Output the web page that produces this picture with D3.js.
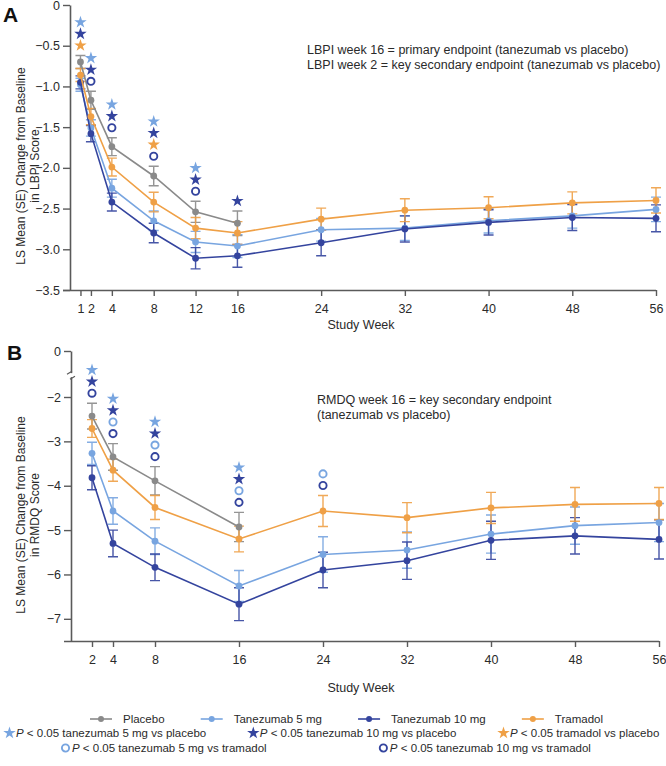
<!DOCTYPE html>
<html>
<head>
<meta charset="utf-8">
<script src="https://cdn.jsdelivr.net/npm/d3@7"></script>
<style>
  body { margin: 0; background: #fff; }
  svg { display: block; font-family: "Liberation Sans", Arial, sans-serif; }
</style>
</head>
<body>
<svg id="chart" width="666" height="766"></svg>
<script>
// ---- data: panel A (LBPI) ----
const weeksA = [1, 2, 4, 8, 12, 16, 24, 32, 40, 48, 56]
const placeboA = [-0.70, -1.17, -1.74, -2.10, -2.54, -2.68]
const tan5A = [-0.98, -1.51, -2.25, -2.65, -2.91, -2.96, -2.76, -2.74, -2.65, -2.59, -2.51]
const tan10A = [-0.95, -1.58, -2.42, -2.80, -3.11, -3.08, -2.92, -2.75, -2.67, -2.61, -2.62]
const tramadolA = [-0.86, -1.37, -1.99, -2.42, -2.74, -2.80, -2.63, -2.52, -2.49, -2.43, -2.40]
const placeboSeA = [0.08, 0.11, 0.11, 0.12, 0.13, 0.15]
const tan5SeA = [0.08, 0.10, 0.11, 0.12, 0.13, 0.14, 0.14, 0.15, 0.15, 0.15, 0.15]
const tan10SeA = [0.08, 0.10, 0.11, 0.12, 0.13, 0.14, 0.16, 0.16, 0.155, 0.16, 0.165]
const tramadolSeA = [0.08, 0.10, 0.11, 0.12, 0.13, 0.14, 0.135, 0.14, 0.135, 0.135, 0.155]
const yTicksA = [0, -0.5, -1.0, -1.5, -2.0, -2.5, -3.0, -3.5]
const sigWeeksA = [1, 2, 4, 8, 12, 16]
const sigMarksA = [
  ['t5p', 't10p', 'trp'],
  ['t5p', 't10p', 't10t'],
  ['t5p', 't10p', 't10t'],
  ['t5p', 't10p', 'trp', 't10t'],
  ['t5p', 't10p', 't10t'],
  ['t10p']
]

// ---- data: panel B (RMDQ) ----
const weeksB = [2, 4, 8, 16, 24, 32, 40, 48, 56]
const placeboB = [-2.43, -3.35, -3.89, -4.93]
const tan5B = [-3.27, -4.57, -5.25, -6.26, -5.55, -5.45, -5.09, -4.90, -4.83]
const tan10B = [-3.82, -5.30, -5.84, -6.67, -5.90, -5.69, -5.23, -5.13, -5.21]
const tramadolB = [-2.71, -3.65, -4.49, -5.20, -4.57, -4.72, -4.50, -4.42, -4.40]
const placeboSeB = [0.29, 0.30, 0.32, 0.33]
const tan5SeB = [0.25, 0.30, 0.30, 0.35, 0.40, 0.41, 0.43, 0.42, 0.43]
const tan10SeB = [0.27, 0.30, 0.30, 0.37, 0.40, 0.42, 0.43, 0.41, 0.44]
const tramadolSeB = [0.20, 0.25, 0.27, 0.29, 0.35, 0.34, 0.35, 0.38, 0.36]
const yTicksB = [0, -2, -3, -4, -5, -6, -7]
const sigWeeksB = [2, 4, 8, 16, 24]
const sigMarksB = [
  ['t5p', 't10p', 't10t'],
  ['t5p', 't10p', 't5t', 't10t'],
  ['t5p', 't10p', 't5t', 't10t'],
  ['t5p', 't10p', 't5t', 't10t'],
  ['t5t', 't10t']
]

const seriesNames = ['Placebo', 'Tanezumab 5 mg', 'Tanezumab 10 mg', 'Tramadol']
const colors = ['#8a8a8a', '#78a5e0', '#34449e', '#efa046']
const axisColor = '#5a5a5a'
const textColor = '#2a2a2a'

const markStyle = {
  t5p: { shape: 'star', color: colors[1], label: 'tanezumab 5 mg vs placebo' },
  t10p: { shape: 'star', color: colors[2], label: 'tanezumab 10 mg vs placebo' },
  trp: { shape: 'star', color: colors[3], label: 'tramadol vs placebo' },
  t5t: { shape: 'circle', color: colors[1], label: 'tanezumab 5 mg vs tramadol' },
  t10t: { shape: 'circle', color: colors[2], label: 'tanezumab 10 mg vs tramadol' }
}

const svg = d3.select('#chart')
const starPath = d3.symbol(d3.symbolStar, 48)()

function drawMark(g, key, x, y) {
  const s = markStyle[key]
  if (s.shape === 'star') {
    g.append('path').attr('d', starPath)
      .attr('transform', `translate(${x},${y})`)
      .attr('fill', s.color)
  } else {
    g.append('circle').attr('cx', x).attr('cy', y).attr('r', 3.6)
      .attr('fill', 'none').attr('stroke', s.color).attr('stroke-width', 1.9)
  }
}

function drawPanel(cfg) {
  const g = svg.append('g')
  const x = cfg.x, y = cfg.y

  // axes
  const yAxis = d3.axisLeft(y).tickValues(cfg.yTicks).tickFormat(cfg.yFormat)
    .tickSize(7).tickSizeOuter(0).tickPadding(3)
  const yg = g.append('g').attr('transform', `translate(${x.range()[0]},0)`).call(yAxis)
  const xAxis = d3.axisBottom(x).tickValues(cfg.weeks).tickSize(6).tickSizeOuter(0).tickPadding(8)
  const xg = g.append('g').attr('transform', `translate(0,${y.range()[0]})`).call(xAxis)
  xg.select('.domain').attr('d', `M${x.range()[0] - 7},0.5H${x.range()[1]}`)
  ;[yg, xg].forEach(a => {
    a.select('.domain').attr('stroke', axisColor).attr('stroke-width', 1.6)
    a.selectAll('.tick line').attr('stroke', axisColor).attr('stroke-width', 1.4)
    a.selectAll('.tick text').attr('fill', textColor).attr('font-size', 12.5)
      .attr('font-family', '"Liberation Sans", Arial, sans-serif')
  })

  if (cfg.breakAt !== undefined) {
    const by = y(cfg.breakAt)
    const bx = x.range()[0]
    g.append('rect').attr('x', bx - 4).attr('y', by - 2).attr('width', 8).attr('height', 4).attr('fill', '#fff')
    g.append('path').attr('d', `M${bx - 4},${by - 1}L${bx + 1},${by - 4}M${bx - 1},${by + 4}L${bx + 4},${by + 1}`)
      .attr('stroke', axisColor).attr('stroke-width', 1.2).attr('fill', 'none')
  }

  // series
  const line = d3.line().x(d => x(d.week)).y(d => y(d.value))
  const series = cfg.series.map((s, i) => ({
    color: colors[i],
    points: s.values.map((v, j) => ({ week: cfg.weeks[j], value: v, se: s.se[j] }))
  }))

  series.forEach(s => {
    const eb = g.append('g').attr('stroke', s.color).attr('stroke-width', 1.4).attr('opacity', 0.9)
    s.points.forEach(p => {
      const px = x(p.week), y1 = y(p.value + p.se), y2 = y(p.value - p.se)
      eb.append('path').attr('d', `M${px},${y1}V${y2}M${px - 5},${y1}H${px + 5}M${px - 5},${y2}H${px + 5}`)
    })
  })
  series.forEach(s => {
    g.append('path').datum(s.points).attr('d', line)
      .attr('fill', 'none').attr('stroke', s.color).attr('stroke-width', 1.6)
    g.selectAll(null).data(s.points).enter().append('circle')
      .attr('cx', d => x(d.week)).attr('cy', d => y(d.value)).attr('r', 3.4)
      .attr('fill', s.color)
  })

  // significance markers stacked above the highest error bar
  cfg.sigWeeks.forEach((w, i) => {
    const tops = series.map(s => s.points.find(p => p.week === w))
      .filter(p => p).map(p => y(p.value + p.se))
    const base = d3.min(tops) - 10
    const marks = cfg.sigMarks[i].slice().reverse()
    marks.forEach((m, k) => drawMark(g, m, x(w), base - k * 11.6))
  })

  // panel label
  g.append('text').attr('x', cfg.labelPos[0]).attr('y', cfg.labelPos[1])
    .attr('font-size', 21).attr('font-weight', 'bold').attr('fill', '#111').text(cfg.label)

  // y title
  const t = g.append('text').attr('transform', `translate(28,${cfg.titleY}) rotate(-90)`)
    .attr('text-anchor', 'middle').attr('font-size', 12).attr('fill', textColor)
  cfg.titleLines.forEach((l, i) => t.append('tspan').attr('x', 0).attr('dy', i === 0 ? -3 : 13.5).text(l))

  // x title
  g.append('text').attr('x', 361).attr('y', cfg.xTitleY).attr('text-anchor', 'middle')
    .attr('font-size', 12.5).attr('fill', textColor).text('Study Week')

  // note
  cfg.note.forEach((l, i) => g.append('text').attr('x', cfg.notePos[0]).attr('y', cfg.notePos[1] + i * 14.5)
    .attr('font-size', 12.5).attr('fill', textColor).text(l))
}

const fmtA = d => d === 0 ? '0' : d3.format('.1f')(d)
const fmtB = d => d === 0 ? '0' : d3.format('d')(d)

drawPanel({
  label: 'A', labelPos: [3, 22],
  x: d3.scaleLinear().domain([0, 56]).range([70, 656]),
  y: d3.scaleLinear().domain([-3.5, 0]).range([290, 5]),
  weeks: weeksA, yTicks: yTicksA, yFormat: fmtA,
  series: [
    { values: placeboA, se: placeboSeA },
    { values: tan5A, se: tan5SeA },
    { values: tan10A, se: tan10SeA },
    { values: tramadolA, se: tramadolSeA }
  ],
  sigWeeks: sigWeeksA, sigMarks: sigMarksA,
  titleLines: ['LS Mean (SE) Change from Baseline', 'in LBPI Score'], titleY: 166,
  xTitleY: 329,
  note: ['LBPI week 16 = primary endpoint (tanezumab vs placebo)',
         'LBPI week 2 = key secondary endpoint (tanezumab vs placebo)'],
  notePos: [307, 54]
})

drawPanel({
  label: 'B', labelPos: [7, 360],
  x: d3.scaleLinear().domain([0, 56]).range([71, 659]),
  y: d3.scaleLinear().domain([-7.5, -2, 0]).range([641, 397, 351]),
  weeks: weeksB, yTicks: yTicksB, yFormat: fmtB, breakAt: -1.05,
  series: [
    { values: placeboB, se: placeboSeB },
    { values: tan5B, se: tan5SeB },
    { values: tan10B, se: tan10SeB },
    { values: tramadolB, se: tramadolSeB }
  ],
  sigWeeks: sigWeeksB, sigMarks: sigMarksB,
  titleLines: ['LS Mean (SE) Change from Baseline', 'in RMDQ Score'], titleY: 515,
  xTitleY: 692,
  note: ['RMDQ week 16 = key secondary endpoint', '(tanezumab vs placebo)'],
  notePos: [317, 404]
})

// ---- legend: each row spread between a start and end x ----
const leg = svg.append('g').attr('font-size', 11.5).attr('fill', textColor)

function layoutRow(items, y, x0, x1) {
  const groups = items.map(it => {
    const gi = leg.append('g')
    it.draw(gi, y)
    return { g: gi, w: gi.node().getBBox().width }
  })
  const gap = (x1 - x0 - d3.sum(groups, d => d.w)) / Math.max(1, groups.length - 1)
  let cx = x0
  groups.forEach(d => {
    d.g.attr('transform', `translate(${cx},0)`)
    cx += d.w + gap
  })
}

const seriesItem = i => ({
  draw: (g, y) => {
    g.append('line').attr('x1', 0).attr('x2', 22).attr('y1', y).attr('y2', y)
      .attr('stroke', colors[i]).attr('stroke-width', 1.6)
    g.append('circle').attr('cx', 11).attr('cy', y).attr('r', 3).attr('fill', colors[i])
    g.append('text').attr('x', 33).attr('y', y + 4.2).text(seriesNames[i])
  }
})
const sigItem = key => ({
  draw: (g, y) => {
    drawMark(g, key, 4.5, y)
    const t = g.append('text').attr('x', 11).attr('y', y + 4.2)
    t.append('tspan').attr('font-style', 'italic').text('P')
    t.append('tspan').text(' < 0.05 ' + markStyle[key].label)
  }
})

layoutRow(seriesNames.map((n, i) => seriesItem(i)), 719, 90, 603)
layoutRow(['t5p', 't10p', 'trp'].map(sigItem), 733, 5, 661)
layoutRow(['t5t', 't10t'].map(sigItem), 748, 61, 590)
</script>
</body>
</html>
